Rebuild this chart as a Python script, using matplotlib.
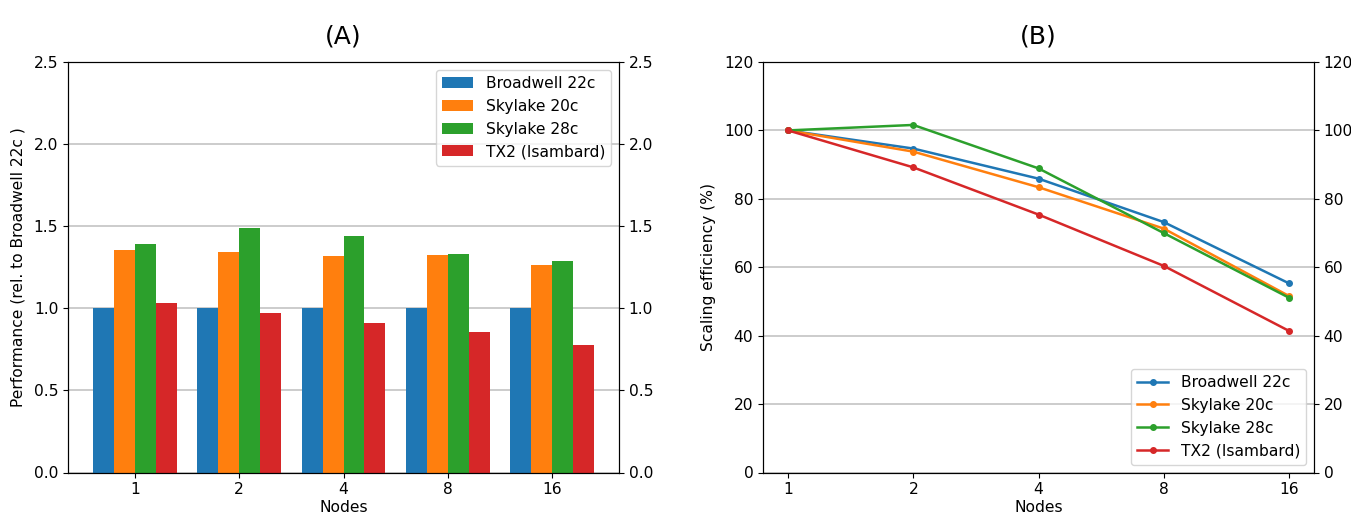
import numpy as np
import matplotlib
matplotlib.use('Agg')
import matplotlib.pyplot as plt

# Data
nodes = ['1', '2', '4', '8', '16']
series = ['Broadwell 22c', 'Skylake 20c', 'Skylake 28c', 'TX2 (Isambard)']
colors = ['#1f77b4', '#ff7f0e', '#2ca02c', '#d62728']

perf_broadwell = [1.0, 1.0, 1.0, 1.0, 1.0]
perf_sky20 = [1.357, 1.345, 1.316, 1.322, 1.261]
perf_sky28 = [1.392, 1.491, 1.438, 1.331, 1.290]
perf_tx2 = [1.032, 0.970, 0.909, 0.855, 0.775]

eff_broadwell = [100, 94.7, 85.9, 73.2, 55.3]
eff_sky20 = [100, 93.8, 83.4, 71.3, 51.6]
eff_sky28 = [100, 101.6, 88.9, 70.0, 51.1]
eff_tx2 = [100, 89.2, 75.4, 60.4, 41.4]

perf = [perf_broadwell, perf_sky20, perf_sky28, perf_tx2]
eff = [eff_broadwell, eff_sky20, eff_sky28, eff_tx2]

plt.rcParams['font.size'] = 11.2
fig = plt.figure(figsize=(13.51, 5.19), dpi=100)
grid_kw = dict(color='#c4c4c4', linewidth=1.2)

# (A) relative performance bars
ax1 = fig.add_axes([68 / 1351, 1 - 472.5 / 519, (619 - 68) / 1351, 410.5 / 519])
x = np.arange(len(nodes))
w = 0.2
for i, (vals, name, c) in enumerate(zip(perf, series, colors)):
    ax1.bar(x + (i - 1.5) * w, vals, w, color=c, label=name)
ax1.set_xticks(x)
ax1.set_xticklabels(nodes)
ax1.set_ylim(0, 2.5)
ax1.set_yticks(np.arange(0, 2.51, 0.5))
ax1.yaxis.grid(True, **grid_kw)
ax1.set_axisbelow(True)
ax1.set_xlabel('Nodes', labelpad=2)
ax1.set_ylabel('Performance (rel. to Broadwell 22c )', labelpad=6)
ax1.set_title('(A)', fontsize=18, pad=13)
ax1.legend(loc='upper right')
ax1r = ax1.twinx()
ax1r.set_ylim(0, 2.5)
ax1r.set_yticks(np.arange(0, 2.51, 0.5))

# (B) scaling efficiency lines
ax2 = fig.add_axes([763 / 1351, 1 - 472.5 / 519, (1314 - 763) / 1351, 410.5 / 519])
for vals, name, c in zip(eff, series, colors):
    ax2.plot(x, vals, marker='o', markersize=4, linewidth=1.8, color=c, label=name)
ax2.set_xticks(x)
ax2.set_xticklabels(nodes)
ax2.set_ylim(0, 120)
ax2.set_yticks(np.arange(0, 121, 20))
ax2.yaxis.grid(True, **grid_kw)
ax2.set_axisbelow(True)
ax2.set_xlabel('Nodes', labelpad=2)
ax2.set_ylabel('Scaling efficiency (%)', labelpad=6)
ax2.set_title('(B)', fontsize=18, pad=13)
ax2.legend(loc='lower right')
ax2r = ax2.twinx()
ax2r.set_ylim(0, 120)
ax2r.set_yticks(np.arange(0, 121, 20))

fig.savefig('out.png', dpi=100)
